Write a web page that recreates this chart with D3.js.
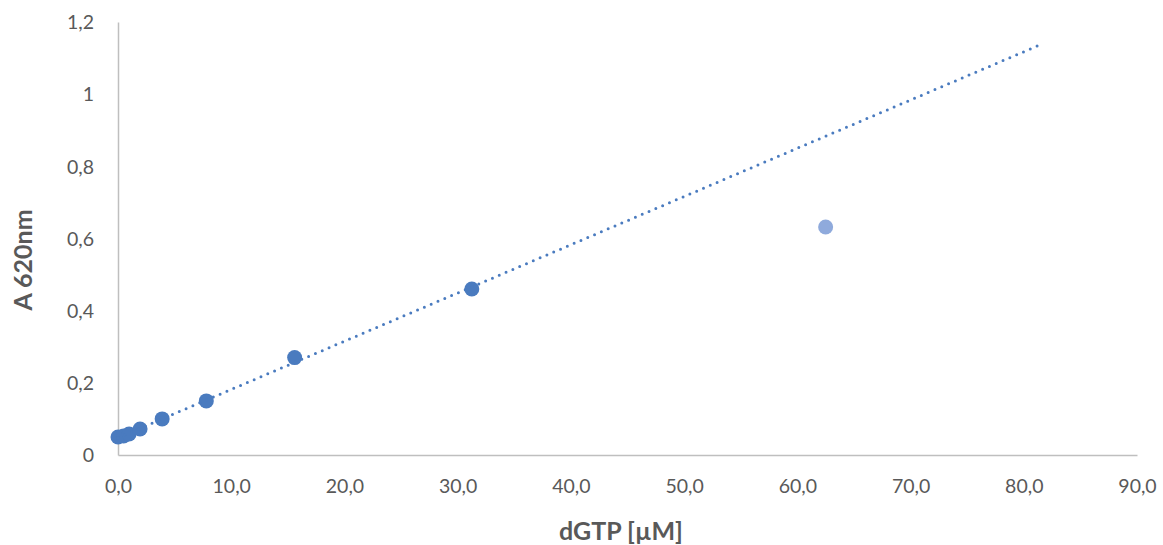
<!DOCTYPE html>
<html>
<head>
<meta charset="utf-8">
<script src="https://cdn.jsdelivr.net/npm/d3@7"></script>
<style>
  html, body { margin: 0; padding: 0; background: #fff; }
  svg { display: block; font-family: Lato, "Open Sans", "Noto Sans", sans-serif; }
</style>
</head>
<body>
<svg id="chart" width="1163" height="545"></svg>
<script>
// dGTP standard curve: concentration (µM) vs absorbance at 620 nm
const concentrations = [0, 0.49, 0.98, 1.95, 3.9, 7.8, 15.6, 31.25];
const absorbance     = [0.050, 0.053, 0.058, 0.072, 0.100, 0.150, 0.270, 0.460];
// point left out of the fit
const outlierConc = [62.5];
const outlierAbs  = [0.632];
// axis ticks
const xTicks = [0, 10, 20, 30, 40, 50, 60, 70, 80, 90];
const yTicks = [0, 0.2, 0.4, 0.6, 0.8, 1.0, 1.2];
const trendForward = 50; // forecast beyond the last fitted point

const svg = d3.select("#chart");
const margin = { left: 118, right: 26, top: 22, bottom: 90 };
const W = 1163, H = 545;

const x = d3.scaleLinear().domain([0, 90]).range([margin.left, W - margin.right]);
const y = d3.scaleLinear().domain([0, 1.2]).range([H - margin.bottom, margin.top]);

const axisColor = "#bfbfbf";
const textColor = "#595959";
const markColor = "#4a7bbf";
const lightColor = "#8faadc";

// axes (no tick marks, label only)
const fmtX = v => d3.format(".1f")(v).replace(".", ",");
const fmtY = v => (+v.toFixed(1)).toString().replace(".", ",");

const xAxis = svg.append("g")
  .attr("transform", `translate(0,${y(0)})`)
  .call(d3.axisBottom(x).tickValues(xTicks).tickFormat(fmtX).tickSize(0).tickPadding(24));
const yAxis = svg.append("g")
  .attr("transform", `translate(${x(0)},0)`)
  .call(d3.axisLeft(y).tickValues(yTicks).tickFormat(fmtY).tickSize(0).tickPadding(24));

[xAxis, yAxis].forEach(g => {
  g.select(".domain").attr("stroke", axisColor).attr("stroke-width", 1.5);
  g.selectAll("text").attr("fill", textColor).style("font-size", "19.5px")
    .style("font-family", "Lato, 'Open Sans', sans-serif");
});
yAxis.selectAll("text").attr("dy", "0.35em");

// linear least-squares trendline over the fitted series
const n = concentrations.length;
const mx = d3.mean(concentrations), my = d3.mean(absorbance);
let sxy = 0, sxx = 0;
for (let i = 0; i < n; i++) {
  sxy += (concentrations[i] - mx) * (absorbance[i] - my);
  sxx += (concentrations[i] - mx) ** 2;
}
const slope = sxy / sxx;
const intercept = my - slope * mx;
const xEnd = d3.max(concentrations) + trendForward;

// markers
svg.append("g").selectAll("circle")
  .data(concentrations.map((c, i) => [c, absorbance[i]]))
  .join("circle")
  .attr("cx", d => x(d[0]))
  .attr("cy", d => y(d[1]))
  .attr("r", 7.5)
  .attr("fill", markColor);

svg.append("g").selectAll("circle")
  .data(outlierConc.map((c, i) => [c, outlierAbs[i]]))
  .join("circle")
  .attr("cx", d => x(d[0]))
  .attr("cy", d => y(d[1]))
  .attr("r", 7.5)
  .attr("fill", lightColor);

// dotted trendline
svg.append("line")
  .attr("x1", x(0)).attr("y1", y(intercept))
  .attr("x2", x(xEnd)).attr("y2", y(intercept + slope * xEnd))
  .attr("stroke", markColor)
  .attr("stroke-width", 3)
  .attr("stroke-linecap", "round")
  .attr("stroke-dasharray", "0 7.4");

// axis titles
svg.append("text")
  .attr("x", 621)
  .attr("y", 540)
  .attr("text-anchor", "middle")
  .attr("fill", textColor)
  .style("font-size", "25px")
  .style("font-weight", "bold")
  .text("dGTP [µM]");

svg.append("text")
  .attr("transform", "translate(32,260) rotate(-90)")
  .attr("text-anchor", "middle")
  .attr("fill", textColor)
  .style("font-size", "25px")
  .style("font-weight", "bold")
  .text("A 620nm");
</script>
</body>
</html>
